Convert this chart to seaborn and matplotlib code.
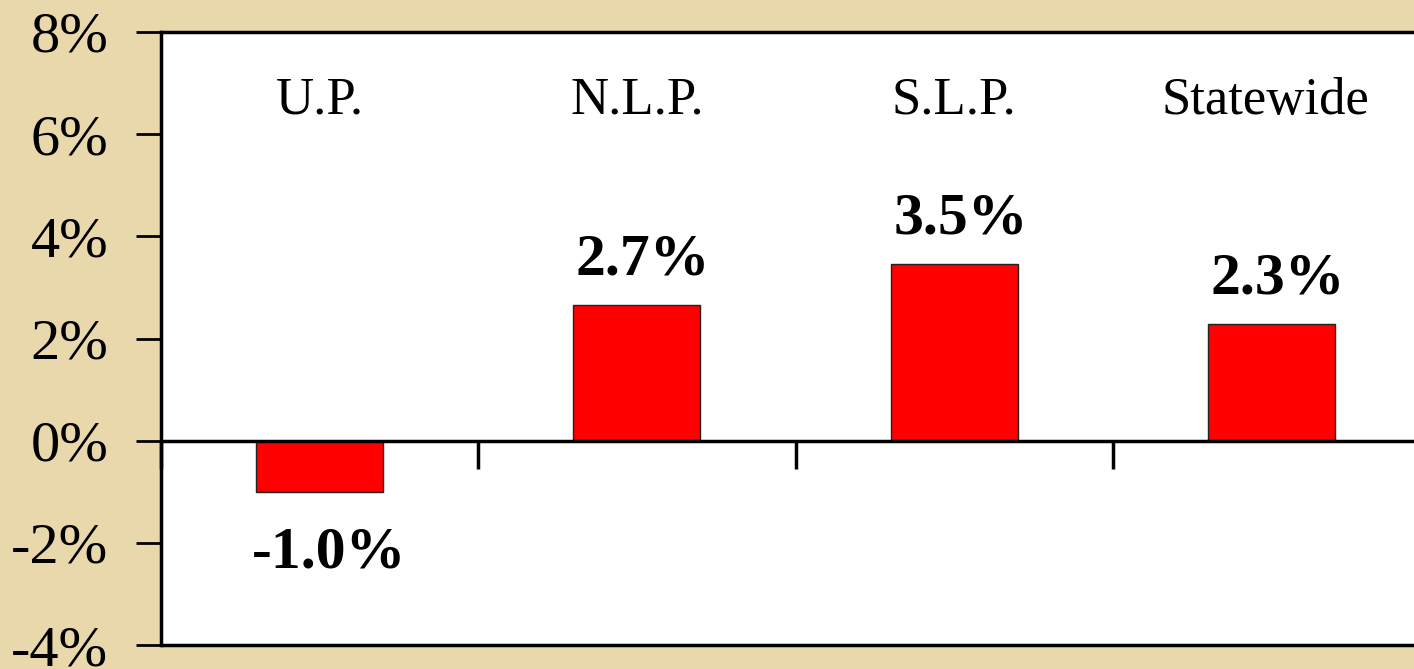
import pandas as pd
import matplotlib
matplotlib.use("Agg")
import matplotlib.pyplot as plt
import seaborn as sns

# values (percent change)
regions = ["U.P.", "N.L.P.", "S.L.P.", "Statewide"]
change_pct = [-1.0, 2.65, 3.45, 2.28]
value_labels = ["-1.0%", "2.7%", "3.5%", "2.3%"]
y_ticks = [-4, -2, 0, 2, 4, 6, 8]

df = pd.DataFrame({"Region": regions, "Change": change_pct})

sns.set_style("white")
plt.rcParams["font.family"] = ["Liberation Serif", "DejaVu Serif"]
plt.rcParams["text.color"] = "black"
plt.rcParams["ytick.color"] = "black"
plt.rcParams["xtick.color"] = "black"

fig = plt.figure(figsize=(14.14, 6.69), dpi=100)
fig.patch.set_facecolor("#E9D8AC")

# axes runs off the right edge, like the original slide
ax = fig.add_axes([161 / 1414, 24 / 669, 1269 / 1414, 613 / 669])
ax.set_facecolor("white")

sns.barplot(data=df, x="Region", y="Change", order=regions, color="#FF0000",
            saturation=1, width=0.4, edgecolor="#222222", linewidth=1, ax=ax)

ax.set_xlim(-0.5, 3.5)
ax.set_ylim(-4, 8)
ax.set_xlabel("")
ax.set_ylabel("")

# y axis
ax.set_yticks(y_ticks)
ax.set_yticklabels([f"{t}%" for t in y_ticks], fontsize=42, color="black")
ax.tick_params(axis="y", direction="out", length=18, width=2, color="black", pad=20, left=True)

# x axis sits at zero with ticks between categories
ax.spines["bottom"].set_position(("data", 0))
ax.set_xticks([-0.5, 0.5, 1.5, 2.5, 3.5])
ax.set_xticklabels([])
ax.tick_params(axis="x", direction="out", length=20, width=2.5, color="black", bottom=True)
ax.axhline(-4, color="black", lw=2.5, clip_on=False)

for side in ["left", "top", "bottom", "right"]:
    ax.spines[side].set_color("black")
    ax.spines[side].set_linewidth(2.5)

# category names inside the plot, near the top
for i, name in enumerate(regions):
    ax.text(i - 0.02 * (i == 3), 6.65, name, ha="center", va="center", fontsize=38, color="black")

# bold value labels
for i, (v, lab) in enumerate(zip(change_pct, value_labels)):
    if v >= 0:
        ax.text(i + 0.02, v + 0.35, lab, ha="center", va="bottom", fontsize=43,
                fontweight="bold", color="black")
    else:
        ax.text(i + 0.03, v - 0.68, lab, ha="center", va="top", fontsize=43,
                fontweight="bold", color="black")

fig.savefig("out.png", dpi=100, facecolor=fig.get_facecolor())
